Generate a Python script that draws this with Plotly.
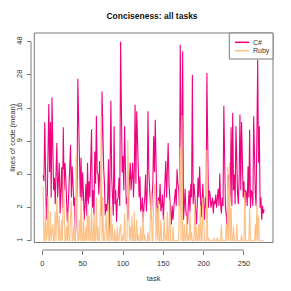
import numpy as np
import plotly.graph_objects as go

# ---------------- data ----------------
tasks = list(range(1, 276))

csharp = [
    4.7, 4.2, 12.4, 6.0, 1.8, 2.5, 9.0, 17.0, 5.0, 12.5,
    3.0, 19.0, 8.0, 3.5, 4.5, 2.6, 5.0, 8.6, 3.0, 4.7,
    6.0, 2.1, 3.0, 5.5, 2.4, 11.4, 3.5, 6.0, 4.6, 2.5,
    1.7, 2.4, 3.6, 5.0, 8.3, 3.0, 5.6, 4.0, 2.5, 3.0,
    1.1, 2.0, 3.5, 26.0, 13.8, 4.5, 3.0, 6.6, 2.8, 5.0,
    3.0, 1.8, 2.6, 4.0, 2.0, 6.0, 2.6, 4.2, 3.0, 5.5,
    11.0, 2.4, 3.5, 2.0, 7.4, 4.0, 13.9, 5.0, 4.8, 3.2,
    6.2, 3.8, 2.0, 21.0, 9.0, 5.5, 4.0, 2.0, 2.6, 2.2,
    3.0, 6.4, 1.2, 4.0, 18.0, 4.5, 3.0, 2.0, 11.6, 2.6,
    3.5, 1.7, 2.8, 3.0, 4.5, 2.5, 48.0, 7.5, 5.0, 6.8,
    3.5, 11.6, 4.0, 2.6, 3.0, 1.8, 3.0, 4.5, 6.0, 3.5,
    4.5, 6.0, 3.0, 5.0, 16.8, 4.0, 15.0, 6.0, 5.3, 3.0,
    4.6, 2.2, 2.4, 3.0, 1.7, 2.5, 3.0, 4.8, 2.2, 3.5,
    15.0, 5.0, 3.6, 2.5, 1.8, 3.0, 4.0, 9.7, 5.0, 13.0,
    3.6, 2.5, 1.8, 3.0, 2.6, 4.0, 2.2, 2.5, 3.2, 1.8,
    2.8, 4.0, 6.2, 3.0, 4.6, 8.6, 4.0, 3.1, 2.2, 1.6,
    2.5, 1.8, 2.4, 3.0, 3.6, 2.5, 5.3, 4.0, 3.6, 2.5,
    45.6, 12.0, 3.0, 41.0, 1.8, 2.5, 3.6, 2.2, 1.9, 1.6,
    2.5, 3.5, 2.2, 4.0, 3.0, 27.8, 2.6, 4.0, 3.2, 2.0,
    1.6, 2.5, 4.5, 3.0, 5.6, 3.2, 1.9, 2.8, 4.0, 2.5,
    1.8, 3.0, 2.4, 28.6, 4.0, 2.4, 3.5, 3.2, 2.4, 2.6,
    3.0, 2.1, 2.8, 2.6, 3.2, 2.4, 2.8, 3.6, 2.5, 4.9,
    2.6, 2.1, 3.0, 2.5, 16.5, 3.0, 2.4, 2.0, 1.4, 4.5,
    4.8, 2.6, 3.3, 11.4, 2.5, 14.6, 3.5, 4.8, 2.6, 11.6,
    4.0, 3.3, 2.6, 4.5, 14.2, 3.5, 12.5, 4.0, 3.0, 4.2,
    2.4, 3.5, 3.3, 2.5, 5.6, 3.0, 10.9, 2.4, 3.5, 3.3,
    2.5, 13.8, 4.0, 3.3, 2.5, 14.6, 35.7, 6.0, 11.6, 2.4,
    3.0, 1.8, 2.5, 2.1, 2.3,
]

ruby = [
    3.8, 1.0, 1.0, 2.5, 1.0, 1.2, 3.1, 1.0, 1.0, 2.2,
    1.0, 1.5, 1.6, 1.0, 1.0, 2.2, 1.0, 3.0, 1.5, 1.0,
    2.0, 1.0, 1.0, 1.8, 1.0, 5.3, 2.5, 1.0, 1.0, 1.5,
    1.0, 2.2, 1.0, 1.0, 2.0, 2.8, 1.0, 1.0, 1.5, 1.0,
    1.0, 7.0, 2.0, 1.0, 1.0, 1.8, 1.0, 3.0, 1.0, 1.0,
    2.2, 1.0, 1.0, 1.5, 1.0, 2.8, 1.0, 2.0, 1.0, 1.0,
    2.4, 1.0, 1.0, 2.1, 1.0, 1.0, 3.0, 1.0, 1.5, 1.0,
    1.0, 2.5, 13.8, 1.0, 3.0, 1.0, 1.0, 1.8, 2.1, 1.0,
    1.0, 2.6, 1.0, 1.0, 2.5, 1.0, 1.6, 1.0, 1.0, 1.4,
    1.0, 1.0, 1.5, 1.0, 1.0, 1.4, 1.6, 1.0, 1.0, 1.2,
    1.0, 2.1, 1.0, 1.0, 1.0, 9.1, 3.0, 1.0, 1.5, 1.0,
    2.0, 1.0, 1.0, 2.2, 1.0, 1.0, 1.8, 1.0, 1.2, 1.0,
    1.0, 1.5, 1.0, 1.0, 2.2, 1.0, 1.2, 1.0, 1.0, 1.0,
    1.3, 1.0, 1.0, 2.5, 3.4, 1.0, 1.0, 2.6, 4.0, 3.8,
    1.0, 2.4, 1.0, 2.8, 1.0, 1.0, 1.8, 1.0, 1.0, 1.0,
    2.0, 1.0, 1.2, 1.0, 2.2, 1.0, 1.0, 2.8, 1.0, 1.0,
    1.0, 1.5, 1.0, 1.0, 1.0, 1.0, 1.0, 1.0, 1.0, 3.6,
    8.0, 1.0, 14.0, 1.0, 1.0, 1.6, 1.0, 1.0, 2.0, 1.0,
    1.2, 1.0, 2.2, 1.0, 1.3, 1.0, 1.0, 1.0, 2.6, 1.0,
    1.5, 1.0, 1.0, 1.6, 1.0, 2.5, 1.0, 1.0, 3.0, 1.2,
    1.0, 1.0, 1.0, 7.6, 1.0, 1.1, 1.0, 1.0, 1.0, 1.0,
    1.0, 1.0, 1.1, 1.0, 1.0, 1.0, 1.1, 1.0, 1.0, 1.0,
    1.0, 1.6, 1.0, 1.0, 1.0, 1.0, 1.0, 1.6, 1.0, 5.6,
    1.0, 6.0, 1.0, 2.4, 1.0, 1.0, 1.5, 1.0, 1.0, 1.0,
    1.6, 1.0, 1.0, 1.0, 1.0, 1.0, 1.2, 1.0, 1.0, 1.0,
    3.4, 1.0, 1.0, 1.0, 1.0, 1.0, 2.4, 1.0, 1.0, 1.0,
    1.0, 1.0, 1.0, 1.6, 1.0, 2.6, 1.0, 2.0, 1.0, 1.0,
    1.0, 1.0, 1.0, 1.0, 1.0,
]

series_names = ["C#", "Ruby"]
series_colors = ["#F0027F", "#FDC086"]
x_tick_vals = [0, 50, 100, 150, 200, 250]

assert len(csharp) == len(tasks) and len(ruby) == len(tasks)

# y axis: log(1 + lines) scale, 7 evenly spaced ticks from min to max
all_vals = np.array(csharp + ruby)
lo, hi = np.log1p(all_vals.min()), np.log1p(all_vals.max())
y_tick_pos = np.linspace(lo, hi, 7)
y_tick_text = [str(int(round(np.expm1(t)))) for t in y_tick_pos]

# ---------------- figure ----------------
# page body has an 8px margin: lay out in window pixels, then shift
OFF = 8
W = H = 291 - OFF
ax_left, box_left, box_right = 31, 34.3, 273      # window px
box_top, box_bottom, ax_bottom = 33, 242.5, 250   # window px

ml = ax_left - OFF
mr = W - (box_right - OFF)
mt = box_top - OFF
mb = H - (ax_bottom - OFF)
pw, ph = W - ml - mr, H - mt - mb

span = hi - lo
y_range = [lo - 1.8 / 199 * span, hi + 8.7 / 199 * span]

xmin, xmax = min(tasks), max(tasks)
xpad = 0.04 * (xmax - xmin)

FONT = "Liberation Sans, Arial, Helvetica, sans-serif"
AX = "#7a7a7a"
TXT = "#333333"
FS = 7.5

fig = go.Figure()
for name, vals, col in zip(series_names, [csharp, ruby], series_colors):
    fig.add_trace(go.Scatter(
        x=tasks, y=np.log1p(vals), mode="lines", name=name,
        line=dict(color=col, width=1.1), showlegend=False,
    ))

fig.update_layout(
    width=W, height=H,
    margin=dict(l=ml, r=mr, t=mt, b=mb, pad=0, autoexpand=False),
    paper_bgcolor="white", plot_bgcolor="white",
    font=dict(family=FONT, size=FS, color=TXT),
    title=dict(text="<b>Conciseness: all tasks</b>", x=0.5, xref="paper", xanchor="center",
               y=1 - (16 - OFF) / H, yanchor="middle", yref="container",
               font=dict(size=8.5, color="#111111")),
    xaxis=dict(
        domain=[(box_left - ax_left) / pw, 1], range=[xmin - xpad, xmax + xpad],
        anchor="free", position=0, automargin=False,
        showgrid=False, zeroline=False, showline=False,
        tickmode="array", tickvals=x_tick_vals,
        ticks="outside", ticklen=4, tickwidth=1, tickcolor=AX,
        tickfont=dict(size=FS, color=TXT), ticklabelstandoff=2,
        title=dict(text="task", font=dict(size=FS, color=TXT), standoff=8),
    ),
    yaxis=dict(
        domain=[(ax_bottom - box_bottom) / ph, 1], range=y_range,
        anchor="free", position=0, automargin=False,
        showgrid=False, zeroline=False, showline=False,
        tickmode="array", tickvals=list(y_tick_pos), ticktext=y_tick_text,
        tickangle=-90,
        ticks="outside", ticklen=4, tickwidth=1, tickcolor=AX,
        tickfont=dict(size=FS, color=TXT), ticklabelstandoff=2,
        title=dict(text="lines of code (mean)", font=dict(size=FS, color=TXT), standoff=6),
    ),
)

# plot box
fig.add_shape(type="rect", xref="x domain", yref="y domain", x0=0, x1=1, y0=0, y1=1,
              line=dict(color=AX, width=1), fillcolor="rgba(0,0,0,0)", layer="above")
# detached axis lines spanning first..last tick
fig.add_shape(type="line", xref="x", yref="paper", x0=x_tick_vals[0], x1=x_tick_vals[-1],
              y0=0, y1=0, line=dict(color=AX, width=1))
fig.add_shape(type="line", xref="paper", yref="y", x0=0, x1=0,
              y0=y_tick_pos[0], y1=y_tick_pos[-1], line=dict(color=AX, width=1))

# legend (top-right, R style), positions in window px
def px_x(p):
    return (p - OFF - ml) / pw

def px_y(p):
    return (H - mb - (p - OFF)) / ph

fig.add_shape(type="rect", xref="paper", yref="paper",
              x0=px_x(229.3), x1=px_x(273), y0=px_y(59), y1=px_y(33),
              line=dict(color=AX, width=1), fillcolor="white", layer="above")
for i, (name, col) in enumerate(zip(series_names, series_colors)):
    yy = 42.3 + i * 8.4
    fig.add_shape(type="line", xref="paper", yref="paper",
                  x0=px_x(235), x1=px_x(249.3), y0=px_y(yy), y1=px_y(yy),
                  line=dict(color=col, width=1.5), layer="above")
    fig.add_annotation(text=name, xref="paper", yref="paper", x=px_x(252), y=px_y(yy),
                       xanchor="left", yanchor="middle", showarrow=False, borderpad=0,
                       font=dict(size=7, color=TXT))

fig.write_html("out.html")
